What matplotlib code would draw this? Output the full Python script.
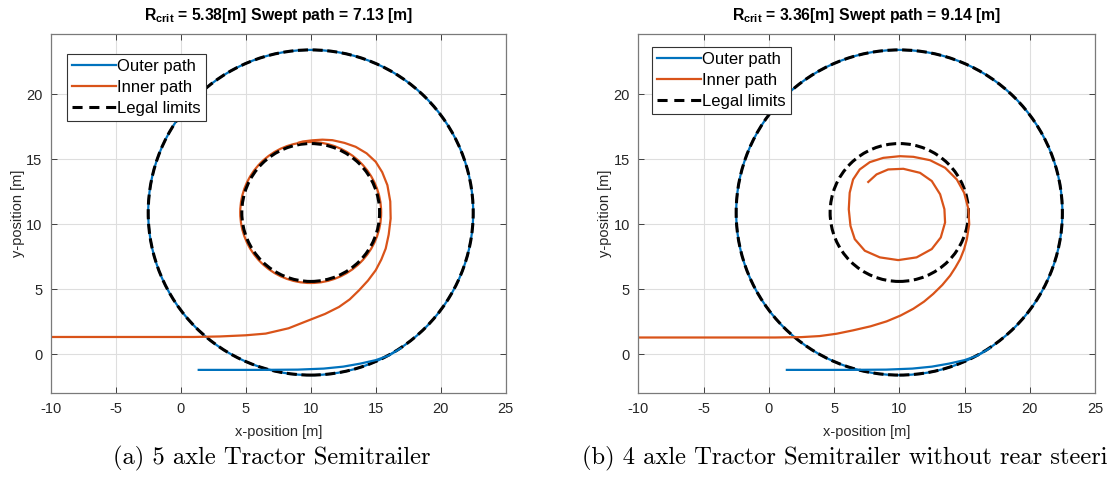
import numpy as np
import matplotlib.pyplot as plt
from matplotlib.patches import Circle
from matplotlib.lines import Line2D

plt.rcParams['font.family'] = ['Liberation Sans', 'DejaVu Sans']
plt.rcParams['axes.unicode_minus'] = False
plt.rcParams['mathtext.fontset'] = 'custom'
plt.rcParams['mathtext.rm'] = 'Liberation Sans'
plt.rcParams['mathtext.bf'] = 'Liberation Sans:bold'

# legal limits (circle centre and radii, metres)
limit_centre = (10.0, 10.9)
r_outer_limit = 12.5
r_inner_limit = 5.3

# outer path: straight run-in that joins the outer circle
outer_x = [1.3, 6.0, 9.0, 11.0, 12.5, 13.8, 15.0, 16.0, 17.0]
outer_y = [-1.2, -1.2, -1.18, -1.1, -0.95, -0.72, -0.45, -0.1, 0.5]
outer_loop_r = 12.5

# (a) inner path, (x, y) pairs, then a closing loop
inner_a = [(-10, 1.33), (1.0, 1.33), (3.0, 1.37), (5.0, 1.46), (6.54, 1.59), (8.3, 2.0),
           (9.87, 2.62), (11.1, 3.1), (12.18, 3.64), (13.0, 4.22), (13.72, 4.92), (14.4, 5.66),
           (15.0, 6.46), (15.43, 7.28), (15.77, 8.13), (16.0, 9.2), (16.15, 10.44),
           (16.12, 11.75), (15.9, 13.0), (15.5, 14.0), (15.0, 14.8), (14.3, 15.45),
           (13.46, 15.95), (12.6, 16.25), (11.67, 16.46), (10.9, 16.5), (10.13, 16.45),
           (9.4, 16.36), (9.0, 16.25)]
inner_a_x = [p[0] for p in inner_a]
inner_a_y = [p[1] for p in inner_a]
inner_a_loop_r = 5.42

# (b) inner path, (x, y) pairs
inner_b = [(-10, 1.29), (0.5, 1.29), (2.5, 1.32), (3.9, 1.4), (5.2, 1.58), (6.46, 1.84),
           (7.8, 2.15), (9.03, 2.53), (10.1, 2.98), (11.08, 3.5), (11.9, 4.05), (12.6, 4.64),
           (13.3, 5.33), (13.9, 6.05), (14.3, 6.67), (14.67, 7.32), (14.97, 8.08),
           (15.18, 8.85), (15.36, 10.0), (15.3, 11.15), (14.97, 12.42), (14.41, 13.44),
           (13.51, 14.34), (12.36, 14.92), (11.08, 15.18), (10.05, 15.23), (8.77, 15.1),
           (7.74, 14.77), (6.97, 14.21), (6.46, 13.44), (6.2, 12.42), (6.13, 11.15),
           (6.26, 9.87), (6.59, 8.85), (7.36, 7.96), (8.51, 7.45), (9.92, 7.24), (11.33, 7.45),
           (12.49, 8.09), (13.18, 8.98), (13.51, 10.13), (13.46, 11.15), (13.13, 12.3),
           (12.49, 13.32), (11.59, 13.95), (10.31, 14.26), (9.15, 14.21), (8.26, 13.83),
           (7.56, 13.19)]
inner_b_x = [p[0] for p in inner_b]
inner_b_y = [p[1] for p in inner_b]

titles = [r'$\mathbf{R_{crit}}$ = 5.38[m] Swept path = 7.13 [m]',
          r'$\mathbf{R_{crit}}$ = 3.36[m] Swept path = 9.14 [m]']
# the right caption runs off the page edge in the original
captions = ['(a) 5 axle Tractor Semitrailer',
            '(b) 4 axle Tractor Semitrailer without rear steering']

blue = '#0072BD'
orange = '#D95319'
dash = (0, (3.3, 1.5))


def draw_panel(ax, inner_x, inner_y, loop_r, title, legend_pos):
    # outer path
    ax.plot(outer_x, outer_y, color=blue, lw=1.6, solid_capstyle='butt')
    ax.add_patch(Circle(limit_centre, outer_loop_r, fill=False, ec=blue, lw=1.6))
    # inner path
    ax.plot(inner_x, inner_y, color=orange, lw=1.6, solid_capstyle='butt',
            solid_joinstyle='round')
    if loop_r is not None:
        ax.add_patch(Circle(limit_centre, loop_r, fill=False, ec=orange, lw=1.6))
    # legal limits
    for r in [r_outer_limit, r_inner_limit]:
        ax.add_patch(Circle(limit_centre, r, fill=False, ec='black', lw=2.2, ls=dash))

    ax.set_xlim(-10, 25)
    ax.set_ylim(-3, 24.6)
    ax.set_xticks(np.arange(-10, 26, 5))
    ax.set_yticks(np.arange(0, 21, 5))
    ax.grid(True, color='#dedede', lw=0.8)
    ax.set_axisbelow(True)
    ax.tick_params(direction='in', top=True, right=True, length=4, width=0.6,
                   labelsize=10.5, colors='#262626', pad=6)
    for s in ax.spines.values():
        s.set_color('#7a7a7a')
        s.set_linewidth(0.9)
    ax.set_xlabel('x-position [m]', fontsize=10.5, color='#262626', labelpad=7)
    ax.set_ylabel('y-position [m]', fontsize=10.5, color='#262626', labelpad=1)
    ax.set_title(title, fontsize=11.3, fontweight='bold', pad=10)

    handles = [Line2D([], [], color=blue, lw=1.6),
               Line2D([], [], color=orange, lw=1.6),
               Line2D([], [], color='black', lw=2.2, ls=(0, (3.3, 2.2)))]
    leg = ax.legend(handles, ['Outer path', 'Inner path', 'Legal limits'],
                    loc='upper left', bbox_to_anchor=legend_pos, fontsize=12,
                    handlelength=2.6, handletextpad=0.1, borderpad=0.3,
                    labelspacing=0.36, borderaxespad=0, fancybox=False,
                    framealpha=1, edgecolor='#333333')
    leg.get_frame().set_linewidth(0.8)


fig = plt.figure(figsize=(11.07, 4.82), dpi=100)
ax1 = fig.add_axes([50.7 / 1107, 1 - 393.3 / 482, 455 / 1107, 359 / 482])
ax2 = fig.add_axes([638.3 / 1107, 1 - 393.3 / 482, 456.7 / 1107, 359 / 482])

draw_panel(ax1, inner_a_x, inner_a_y, inner_a_loop_r, titles[0], (16.6 / 455, 1 - 19.7 / 359))
draw_panel(ax2, inner_b_x, inner_b_y, None, titles[1], (14 / 456.7, 1 - 13 / 359))

fig.text(272 / 1107, 1 - 458 / 482, captions[0], family='cmr10', fontsize=17.7,
         ha='center', va='center')
fig.text(582 / 1107, 1 - 458 / 482, captions[1], family='cmr10', fontsize=17.7,
         ha='left', va='center')

fig.savefig('out.png', dpi=100)
